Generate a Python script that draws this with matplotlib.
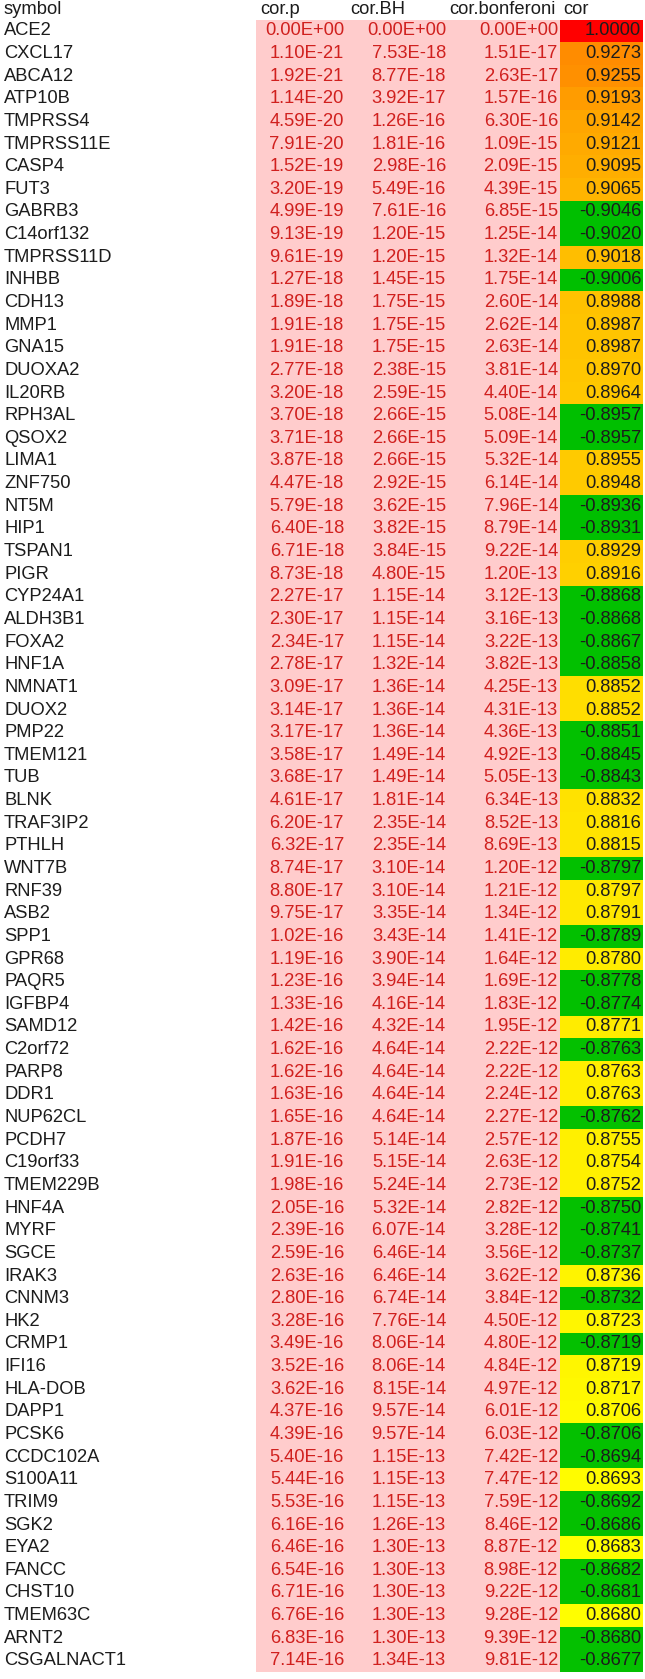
import numpy as np
import matplotlib
matplotlib.use('Agg')
import matplotlib.pyplot as plt
from matplotlib.colors import LinearSegmentedColormap, TwoSlopeNorm

# Dados da tabela
symbols = ['ACE2', 'CXCL17', 'ABCA12', 'ATP10B', 'TMPRSS4', 'TMPRSS11E', 'CASP4', 'FUT3',
           'GABRB3', 'C14orf132', 'TMPRSS11D', 'INHBB', 'CDH13', 'MMP1', 'GNA15', 'DUOXA2',
           'IL20RB', 'RPH3AL', 'QSOX2', 'LIMA1', 'ZNF750', 'NT5M', 'HIP1', 'TSPAN1', 'PIGR',
           'CYP24A1', 'ALDH3B1', 'FOXA2', 'HNF1A', 'NMNAT1', 'DUOX2', 'PMP22', 'TMEM121', 'TUB',
           'BLNK', 'TRAF3IP2', 'PTHLH', 'WNT7B', 'RNF39', 'ASB2', 'SPP1', 'GPR68', 'PAQR5',
           'IGFBP4', 'SAMD12', 'C2orf72', 'PARP8', 'DDR1', 'NUP62CL', 'PCDH7', 'C19orf33',
           'TMEM229B', 'HNF4A', 'MYRF', 'SGCE', 'IRAK3', 'CNNM3', 'HK2', 'CRMP1', 'IFI16',
           'HLA-DOB', 'DAPP1', 'PCSK6', 'CCDC102A', 'S100A11', 'TRIM9', 'SGK2', 'EYA2', 'FANCC',
           'CHST10', 'TMEM63C', 'ARNT2', 'CSGALNACT1']

cor_p = [0.0, 1.10e-21, 1.92e-21, 1.14e-20, 4.59e-20, 7.91e-20, 1.52e-19, 3.20e-19,
         4.99e-19, 9.13e-19, 9.61e-19, 1.27e-18, 1.89e-18, 1.91e-18, 1.91e-18, 2.77e-18,
         3.20e-18, 3.70e-18, 3.71e-18, 3.87e-18, 4.47e-18, 5.79e-18, 6.40e-18, 6.71e-18, 8.73e-18,
         2.27e-17, 2.30e-17, 2.34e-17, 2.78e-17, 3.09e-17, 3.14e-17, 3.17e-17, 3.58e-17, 3.68e-17,
         4.61e-17, 6.20e-17, 6.32e-17, 8.74e-17, 8.80e-17, 9.75e-17, 1.02e-16, 1.19e-16, 1.23e-16,
         1.33e-16, 1.42e-16, 1.62e-16, 1.62e-16, 1.63e-16, 1.65e-16, 1.87e-16, 1.91e-16,
         1.98e-16, 2.05e-16, 2.39e-16, 2.59e-16, 2.63e-16, 2.80e-16, 3.28e-16, 3.49e-16, 3.52e-16,
         3.62e-16, 4.37e-16, 4.39e-16, 5.40e-16, 5.44e-16, 5.53e-16, 6.16e-16, 6.46e-16, 6.54e-16,
         6.71e-16, 6.76e-16, 6.83e-16, 7.14e-16]

cor_bh = [0.0, 7.53e-18, 8.77e-18, 3.92e-17, 1.26e-16, 1.81e-16, 2.98e-16, 5.49e-16,
          7.61e-16, 1.20e-15, 1.20e-15, 1.45e-15, 1.75e-15, 1.75e-15, 1.75e-15, 2.38e-15,
          2.59e-15, 2.66e-15, 2.66e-15, 2.66e-15, 2.92e-15, 3.62e-15, 3.82e-15, 3.84e-15, 4.80e-15,
          1.15e-14, 1.15e-14, 1.15e-14, 1.32e-14, 1.36e-14, 1.36e-14, 1.36e-14, 1.49e-14, 1.49e-14,
          1.81e-14, 2.35e-14, 2.35e-14, 3.10e-14, 3.10e-14, 3.35e-14, 3.43e-14, 3.90e-14, 3.94e-14,
          4.16e-14, 4.32e-14, 4.64e-14, 4.64e-14, 4.64e-14, 4.64e-14, 5.14e-14, 5.15e-14,
          5.24e-14, 5.32e-14, 6.07e-14, 6.46e-14, 6.46e-14, 6.74e-14, 7.76e-14, 8.06e-14, 8.06e-14,
          8.15e-14, 9.57e-14, 9.57e-14, 1.15e-13, 1.15e-13, 1.15e-13, 1.26e-13, 1.30e-13, 1.30e-13,
          1.30e-13, 1.30e-13, 1.30e-13, 1.34e-13]

cor_bonf = [0.0, 1.51e-17, 2.63e-17, 1.57e-16, 6.30e-16, 1.09e-15, 2.09e-15, 4.39e-15,
            6.85e-15, 1.25e-14, 1.32e-14, 1.75e-14, 2.60e-14, 2.62e-14, 2.63e-14, 3.81e-14,
            4.40e-14, 5.08e-14, 5.09e-14, 5.32e-14, 6.14e-14, 7.96e-14, 8.79e-14, 9.22e-14, 1.20e-13,
            3.12e-13, 3.16e-13, 3.22e-13, 3.82e-13, 4.25e-13, 4.31e-13, 4.36e-13, 4.92e-13, 5.05e-13,
            6.34e-13, 8.52e-13, 8.69e-13, 1.20e-12, 1.21e-12, 1.34e-12, 1.41e-12, 1.64e-12, 1.69e-12,
            1.83e-12, 1.95e-12, 2.22e-12, 2.22e-12, 2.24e-12, 2.27e-12, 2.57e-12, 2.63e-12,
            2.73e-12, 2.82e-12, 3.28e-12, 3.56e-12, 3.62e-12, 3.84e-12, 4.50e-12, 4.80e-12, 4.84e-12,
            4.97e-12, 6.01e-12, 6.03e-12, 7.42e-12, 7.47e-12, 7.59e-12, 8.46e-12, 8.87e-12, 8.98e-12,
            9.22e-12, 9.28e-12, 9.39e-12, 9.81e-12]

cor = [1.0000, 0.9273, 0.9255, 0.9193, 0.9142, 0.9121, 0.9095, 0.9065,
       -0.9046, -0.9020, 0.9018, -0.9006, 0.8988, 0.8987, 0.8987, 0.8970,
       0.8964, -0.8957, -0.8957, 0.8955, 0.8948, -0.8936, -0.8931, 0.8929, 0.8916,
       -0.8868, -0.8868, -0.8867, -0.8858, 0.8852, 0.8852, -0.8851, -0.8845, -0.8843,
       0.8832, 0.8816, 0.8815, -0.8797, 0.8797, 0.8791, -0.8789, 0.8780, -0.8778,
       -0.8774, 0.8771, -0.8763, 0.8763, 0.8763, -0.8762, 0.8755, 0.8754,
       0.8752, -0.8750, -0.8741, -0.8737, 0.8736, -0.8732, 0.8723, -0.8719, 0.8719,
       0.8717, 0.8706, -0.8706, -0.8694, 0.8693, -0.8692, -0.8686, 0.8683, -0.8682,
       -0.8681, 0.8680, -0.8680, -0.8677]

headers = ['symbol', 'cor.p', 'cor.BH', 'cor.bonferoni', 'cor']

plt.rcParams['font.family'] = ['Liberation Sans', 'DejaVu Sans']
fs = 13.2
txt_dark = '#1c1c1c'
txt_red = '#d0201e'

# escala de cores (verde -> amarelo -> vermelho), como a formatação condicional
cmap = LinearSegmentedColormap.from_list('escala', ['#00bf00', '#ffff00', '#ff0000'])
norm = TwoSlopeNorm(vmin=min(cor), vcenter=0.8677, vmax=max(cor))

n = len(symbols)
row_h = 22.64
fig = plt.figure(figsize=(6.45, 16.79), dpi=100)
ax = fig.add_axes([0, 0, 1, 1])
ax.set_xlim(0, 645)
top = -19.5 / row_h
ax.set_ylim(top + 1679 / row_h, top)
ax.axis('off')

rows = np.arange(n)
ax.barh(rows, 560 - 256, left=256, height=1, align='edge', color='#ffcccc', linewidth=0)
ax.barh(rows, 643 - 560, left=560, height=1, align='edge', color=cmap(norm(np.array(cor))),
        linewidth=0)

# cabeçalho
hy = top / 2
for x, h in zip([4, 260, 350, 449, 563], headers):
    ax.text(x, hy, h, fontsize=fs, color=txt_dark, ha='left', va='center')

for i in range(n):
    y = i + 0.5
    ax.text(4, y, symbols[i], fontsize=fs, color=txt_dark, ha='left', va='center')
    ax.text(344, y, '%.2E' % cor_p[i], fontsize=fs, color=txt_red, ha='right', va='center')
    ax.text(446, y, '%.2E' % cor_bh[i], fontsize=fs, color=txt_red, ha='right', va='center')
    ax.text(558, y, '%.2E' % cor_bonf[i], fontsize=fs, color=txt_red, ha='right', va='center')
    ax.text(641, y, '%.4f' % cor[i], fontsize=fs, color=txt_dark, ha='right', va='center')

fig.savefig('out.png', dpi=100)
